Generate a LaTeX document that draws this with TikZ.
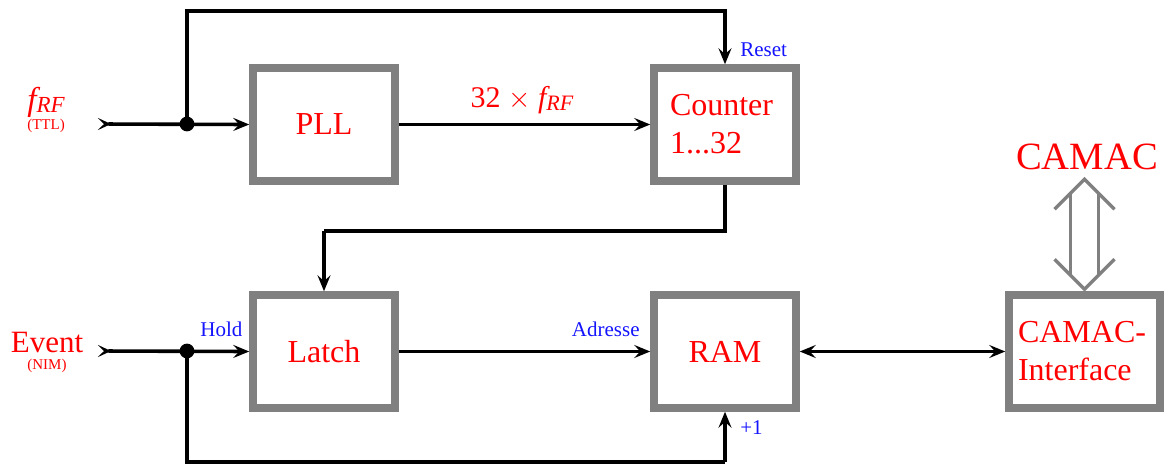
\documentclass[tikz,border=0pt]{standalone}
\usepackage{fontspec}
\setmainfont{Liberation Serif}
\usetikzlibrary{arrows.meta,calc}
\definecolor{boxgray}{RGB}{128,128,128}
\definecolor{lblue}{RGB}{20,20,255}
\begin{document}
\begin{tikzpicture}[x=0.5pt,y=-0.5pt,
  box/.style={draw=boxgray, line width=3.75pt, fill=white, minimum width=71pt,
    minimum height=56.5pt, inner sep=0pt, text=red, font=\fontsize{16}{19}\selectfont},
  conn/.style={line width=1.8pt, -{Stealth[length=8pt,width=6.5pt,inset=3pt]}},
  inconn/.style={line width=1.8pt, {Stealth[length=6.5pt,width=6pt,inset=3pt,reversed]}-{Stealth[length=8pt,width=6.5pt,inset=3pt]}},
  bothconn/.style={line width=1.8pt, {Stealth[length=8pt,width=6.5pt,inset=3pt]}-{Stealth[length=8pt,width=6.5pt,inset=3pt]}},
  plain/.style={line width=1.8pt},
  sig/.style={text=lblue, font=\fontsize{10.5}{12}\selectfont, inner sep=0pt},
  inlbl/.style={text=red, inner sep=0pt},
  camacarrow/.style={draw=boxgray, line width=1.6pt},
  dot/.style={fill=black}
]
\useasboundingbox (0,0) rectangle (1164,466);

% boxes
\node[box] (pll) at (324,124.5) {PLL};
\node[box, text width=55pt, align=left] (cnt) at (725,124.5) {Counter\\1...32};
\node[box] (latch) at (324,351.5) {Latch};
\node[box] (ram) at (725,351.5) {RAM};
\node[box, minimum width=75.5pt, text width=66.5pt, align=left] (iface) at (1084.5,351.5) {CAMAC-\\Interface};

% input labels
\node[inlbl, anchor=base, font=\fontsize{16.5}{19}\selectfont] (frf) at (46,110)
  {\itshape f\raisebox{-1.5pt}{\fontsize{11.5}{12}\selectfont RF}};
\node[inlbl, anchor=base, font=\fontsize{7.5}{9}\selectfont] (ttl) at (46,129) {(TTL)};
\node[inlbl, anchor=base, font=\fontsize{15.5}{18}\selectfont] (event) at (47,352) {Event};
\node[inlbl, anchor=base, font=\fontsize{7.5}{9}\selectfont] (nim) at (47,369) {(NIM)};

% coordinates
\coordinate (fin) at (98,124);
\coordinate (j1) at (187,124);
\coordinate (rtop) at (187,11);
\coordinate (m1) at (324,231);
\coordinate (ein) at (98,351);
\coordinate (j2) at (187,351);
\coordinate (bot) at (725,462);

% connectors top row
\draw[inconn] (fin) -- (pll.west);
\draw[conn] (j1) -- (rtop) -| (cnt.north);
\draw[conn] (pll.east) -- (cnt.west);
\fill[dot] (j1) circle (3.7pt);
\node[inlbl, anchor=base, font=\fontsize{15}{17}\selectfont] (mult) at (522,107)
  {32 $\times$ {\itshape f\raisebox{-1.5pt}{\fontsize{11}{12}\selectfont RF}}};
\node[sig, anchor=base west] (reset) at (740,56) {Reset};

% counter to latch
\draw[plain] (cnt.south) |- (m1);
\draw[conn] (m1) -- (latch.north);

% bottom row
\draw[inconn] (ein) -- (latch.west);
\draw[plain] (j2) |- (bot);
\draw[conn] (bot) -- (ram.south);
\fill[dot] (j2) circle (3.7pt);
\draw[conn] (latch.east) -- (ram.west);
\draw[bothconn] (ram.east) -- (iface.west);
\node[sig, anchor=base west] (hold) at (200,336) {Hold};
\node[sig, anchor=base east] (adr) at (640,336) {Adresse};
\node[sig, anchor=base west] (plus) at (740,434) {+1};

% CAMAC
\node[inlbl, anchor=base, font=\fontsize{19.3}{23}\selectfont] (camac) at (1087,169) {CAMAC};
\coordinate (ct) at ($(iface.north)+(0,-112)$);
\coordinate (cb) at ($(iface.north)+(0,-2)$);
\draw[camacarrow] ($(ct)+(-30,30)$) -- (ct) -- ($(ct)+(30,30)$);
\draw[camacarrow] ($(cb)+(-30,-30)$) -- (cb) -- ($(cb)+(30,-30)$);
\draw[camacarrow] ($(ct)+(-14,14)$) -- ($(cb)+(-14,-14)$);
\draw[camacarrow] ($(ct)+(14,14)$) -- ($(cb)+(14,-14)$);
\end{tikzpicture}
\end{document}
